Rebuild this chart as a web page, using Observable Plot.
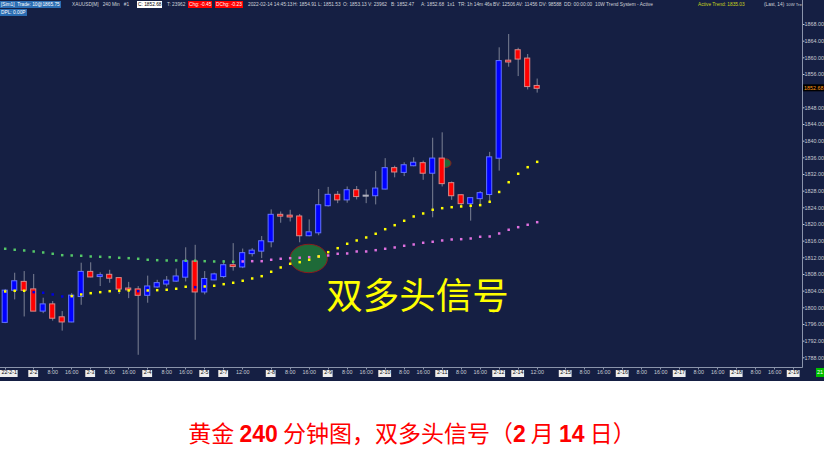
<!DOCTYPE html>
<html><head><meta charset="utf-8">
<script src="https://cdn.jsdelivr.net/npm/d3@7"></script>
<script src="https://cdn.jsdelivr.net/npm/@observablehq/plot@0.6"></script>
<style>
body{margin:0;background:#fff;}
#wrap{position:relative;width:824px;height:461px;background:#fff;overflow:hidden;font-family:"Liberation Sans",Arial,sans-serif;}
#chart{position:absolute;left:0;top:0;}
#hdr{position:absolute;left:0;top:0;width:802px;height:17px;overflow:hidden;font-size:4.8px;color:#d0d3da;white-space:nowrap;}
#hdr span{position:absolute;line-height:7px;height:7px;padding:0 1px;}
#caption{position:absolute;left:0;top:417px;width:824px;text-align:center;color:#ff0000;font-size:23px;line-height:30px;font-family:"Noto Sans CJK SC",sans-serif;white-space:nowrap;}
#caption b{font-family:"Liberation Sans",Arial,sans-serif;font-weight:bold;}
#corner{position:absolute;left:816px;top:368px;width:8px;height:9px;background:#00c000;color:#fff;font-size:5.5px;line-height:9px;text-align:center;}
</style></head>
<body>
<div id="wrap">
  <div id="chart"></div>
  <div id="hdr">
    <span style="left:0;top:1px;background:#2b6db3;color:#fff">[Sim1]&nbsp; Trade: 10@1865.75</span>
    <span style="left:71px;top:1px">XAUUSD[M]&nbsp;&nbsp; 240 Min&nbsp;&nbsp; #1</span>
    <span style="left:137px;top:1px;background:#fff;color:#000">C: 1852.68</span>
    <span style="left:166px;top:1px">T: 23962</span>
    <span style="left:188px;top:1px;background:#ff0000;color:#fff">Chg: -0.45</span>
    <span style="left:215px;top:1px;background:#ff0000;color:#fff">DChg: -0.23</span>
    <span style="left:247px;top:1px">2022-02-14 14:45:13</span>
    <span style="left:292px;top:1px">H: 1854.91</span>
    <span style="left:317px;top:1px">L: 1851.53</span>
    <span style="left:342px;top:1px">O: 1853.13</span>
    <span style="left:367px;top:1px">V: 23962</span>
    <span style="left:390px;top:1px">B: 1852.47</span>
    <span style="left:420px;top:1px">A: 1852.68</span>
    <span style="left:446px;top:1px">1x1</span>
    <span style="left:457px;top:1px">TR: 1h 14m 46s</span>
    <span style="left:492px;top:1px">BV: 12506</span>
    <span style="left:515px;top:1px">AV: 11456</span>
    <span style="left:538px;top:1px">DV: 98588</span>
    <span style="left:563px;top:1px">DD: 00:00:00</span>
    <span style="left:594px;top:1px">10W Trend System - Active</span>
    <span style="left:697px;top:1px;color:#c9d41c">Active Trend: 1835.03</span>
    <span style="left:763px;top:1px">(Last, 14)</span>
    <span style="left:786px;top:1px;font-size:4.2px;padding:0">10W Tre</span>
    <span style="left:0;top:9px;background:#2b6db3;color:#fff">DPL: 0.00P</span>
  </div>
  <div id="corner">21</div>
  <div id="caption">黄金 <b>240</b> 分钟图，双多头信号（<b>2</b> 月 <b>14</b> 日）</div>
</div>
<script>
// ---- OHLC (XAUUSD, 240-min bars, index 0 = 2022-02-01) ----
const opens  = [1796.5,1804.2,1806.1,1804.3,1799.2,1800.7,1797.6,1796.6,1802.7,1808.5,
                1807.5,1807.8,1807.0,1804.5,1804.3,1803.0,1805.0,1805.7,1806.4,1807.35,
                1811.0,1803.8,1806.7,1807.5,1810.1,1809.8,1813.0,1813.6,1815.85,1822.2,
                1822.0,1821.8,1817.3,1818.0,1824.5,1827.0,1825.9,1828.1,1826.8,1826.9,
                1828.5,1833.4,1832.5,1834.1,1834.6,1832.3,1835.7,1829.8,1826.9,1825.0,
                1826.2,1827.2,1835.9,1859.2,1861.7,1859.7,1853.13];
const highs  = [1804.4,1808.3,1808.7,1808.0,1802.3,1801.5,1799.1,1803.4,1810.7,1810.8,
                1808.4,1809.0,1807.1,1806.1,1805.1,1807.6,1806.6,1807.5,1809.3,1814.4,
                1815.0,1808.7,1808.3,1811.3,1815.4,1814.1,1814.2,1817.1,1823.5,1823.0,
                1823.4,1822.4,1821.1,1828.4,1828.9,1827.9,1829.0,1829.1,1828.3,1832.7,
                1835.8,1834.0,1834.8,1836.0,1835.2,1840.7,1842.0,1830.2,1827.2,1826.2,
                1827.9,1837.3,1862.4,1865.6,1862.3,1860.8,1854.91];
const lows   = [1796.2,1801.9,1797.8,1799.1,1798.6,1796.8,1794.4,1796.4,1800.6,1807.2,
                1805.1,1805.9,1803.2,1802.2,1788.6,1801.1,1804.7,1805.0,1806.1,1806.2,
                1792.2,1803.1,1806.5,1807.0,1808.8,1809.4,1812.2,1811.8,1814.4,1820.3,
                1820.6,1815.6,1817.05,1817.3,1824.2,1825.0,1825.1,1825.9,1825.0,1824.7,
                1828.3,1831.2,1831.5,1833.85,1830.6,1821.6,1829.0,1825.8,1824.2,1820.8,
                1824.6,1825.0,1832.8,1857.75,1855.5,1852.3,1851.53];
const closes = [1804.0,1806.25,1804.2,1799.2,1800.7,1797.5,1796.6,1802.8,1808.5,1807.4,
                1807.7,1807.1,1804.5,1804.3,1803.0,1805.0,1805.8,1806.4,1807.4,1811.05,
                1803.8,1806.8,1807.9,1810.1,1809.9,1813.0,1813.6,1815.85,1822.2,1822.0,
                1821.8,1817.3,1818.0,1824.5,1827.0,1825.9,1828.1,1826.7,1826.8,1828.5,
                1833.4,1832.6,1834.1,1834.7,1832.3,1835.7,1829.8,1826.9,1825.0,1826.2,
                1827.4,1836.0,1859.1,1859.0,1859.7,1853.1,1852.68];

// ---- 10W Trend System lines ----
const greenStart = 0;   // slow line, bars 0-24
const greenLine  = [1814.17,1813.93,1813.76,1813.52,1813.28,1812.97,1812.63,1812.56,1812.49,1812.32,
                    1812.25,1812.15,1812.01,1811.91,1811.77,1811.53,1811.43,1811.36,1811.36,1811.29,
                    1811.29,1811.19,1811.12,1811.12,1811.05];
const pinkStart  = 25;  // slow line, bars 25-56
const pinkLine   = [1811.12,1811.19,1811.19,1811.53,1811.77,1811.91,1812.01,1812.15,1812.32,1812.56,
                    1812.97,1813.04,1813.52,1813.52,1813.83,1814.17,1814.48,1814.89,1815.20,1815.61,
                    1815.85,1816.16,1816.40,1816.47,1816.64,1817.05,1817.12,1817.84,1818.73,1819.35,
                    1819.93,1820.55];
const yellowLine = [1803.92,1804.09,1804.09,1803.75,1803.61,1803.20,1802.72,1802.79,1803.20,1803.51,
                    1803.75,1803.99,1804.09,1804.16,1803.99,1804.16,1804.23,1804.33,1804.57,1805.05,
                    1804.95,1805.12,1805.29,1805.67,1806.01,1806.49,1807.04,1807.59,1808.65,1809.68,
                    1810.57,1810.95,1811.53,1812.32,1813.35,1814.31,1815.37,1816.16,1816.88,1817.77,
                    1818.87,1819.83,1820.89,1821.92,1822.64,1823.53,1823.91,1824.15,1824.32,1824.49,
                    1824.64,1825.45,1827.80,1830.15,1832.17,1833.75,1835.03];
const yellowState = [1,1,1,0,0,0,0,1,1,1, 1,1,1,1,0,1,1,1,1,1, 0,1,1,1,1,1,1,1,1,1,
                     1,1,1,1,1,1,1,1,1,1, 1,1,1,1,1,1,1,1,1,1, 1,1,1,1,1,1,1];

// ---- axes ----
const yTicks = [1788,1792,1796,1800,1804,1808,1812,1816,1820,1824,1828,1832,1836,1840,1844,1848,1856,1860,1864,1868]; // 1852 hidden under last-price marker
const xTickIdx    = [0,3,5,7,9,11,13,15,17,19,21,23,25,28,30,32,34,36,38,40,42,44,46,48,50,52,54,56,59,61,63,65,67,69,71,73,75,77,79,81,83];
const xTickLabels = ["22-2-1","2-2","8:00","16:00","2-3","8:00","16:00","2-4","8:00","16:00","2-5","2-7","12:00","2-8","8:00","16:00","2-9","8:00","16:00","2-10","8:00","16:00","2-11","8:00","16:00","2-12","2-14","12:00","2-15","8:00","16:00","2-16","8:00","16:00","2-17","8:00","16:00","2-18","8:00","16:00","2-19"];
const lastPrice = 1852.68;

// ---- annotations ----
const signalText = "双多头信号";
const signalX = 43.4, signalY = 1802.4;
const ellipseX  = [32.0, 46.4];
const ellipseY  = [1811.72, 1834.6];
const ellipseRX = [1.97, 0.58];   // in bars
const ellipseRY = [3.41, 1.05];   // in price units

// ---- build tables ----
const candles = opens.map((o, i) => ({i, o, h: highs[i], l: lows[i], c: closes[i],
  dir: closes[i] > o ? "up" : closes[i] < o ? "down" : "flat"}));
const green = greenLine.map((v, k) => ({i: greenStart + k, v}));
const pink = pinkLine.map((v, k) => ({i: pinkStart + k, v}));
const yellow = yellowLine.map((v, i) => ({i, v, s: yellowState[i]}));
const ticks = xTickIdx.map((i, k) => ({i, label: xTickLabels[k], date: xTickLabels[k].includes("-"), first: k === 0}));
const ellipses = ellipseX.map((x, k) => ({x, y: ellipseY[k], rx: ellipseRX[k], ry: ellipseRY[k]}));

const bodyFill = {up: "#0000ff", down: "#ff0000", flat: "#9a9aa8"};
const bodyStroke = {up: "#6474ff", down: "#d88a8a", flat: "#b0b0bc"};
const FS = 5.4;
const charW = ch => (/[0-9]/.test(ch) ? 0.556 : ch === "-" ? 0.333 : ch === ":" ? 0.278 : 0.5) * FS;

const ellipseMark = (index, scales) => {
  const g = d3.create("svg:g");
  for (const e of ellipses) {
    g.append("ellipse")
      .attr("cx", scales.x(e.x)).attr("cy", scales.y(e.y))
      .attr("rx", Math.abs(scales.x(e.x + e.rx) - scales.x(e.x)))
      .attr("ry", Math.abs(scales.y(e.y + e.ry) - scales.y(e.y)))
      .attr("fill", "#1e6a38").attr("stroke", "#8a1c1c").attr("stroke-width", 1);
  }
  return g.node();
};

const frameMark = (index, scales, values, dims) => {
  const {width, height, marginRight, marginBottom} = dims;
  const xr = width - marginRight + 0.5, yb = height - marginBottom + 0.5;
  const g = d3.create("svg:g").attr("stroke", "#8a94ab").attr("stroke-width", 1);
  g.append("line").attr("x1", xr).attr("x2", xr).attr("y1", 0).attr("y2", yb);
  g.append("line").attr("x1", 0).attr("x2", xr).attr("y1", yb).attr("y2", yb);
  for (const t of ticks) {
    const x = Math.round(scales.x(t.i)) + 0.5;
    g.append("line").attr("x1", x).attr("x2", x).attr("y1", yb).attr("y2", yb + 2);
  }
  // white boxes behind date labels
  for (const t of ticks.filter(t => t.date)) {
    const w = [...t.label].reduce((s, ch) => s + charW(ch), 0) + 2;
    const x0 = t.first ? 0 : scales.x(t.i) - w / 2;
    g.append("rect").attr("x", x0).attr("y", yb + 2.5).attr("width", w).attr("height", 7)
      .attr("fill", "#eeeeee").attr("stroke", "none");
  }
  // last price marker box
  const py = scales.y(lastPrice);
  g.append("rect").attr("x", xr + 0.5).attr("y", py - 3.5).attr("width", width - xr).attr("height", 7)
    .attr("fill", "#000").attr("stroke", "none");
  return g.node();
};

const chart = Plot.plot({
  width: 824, height: 381,
  marginLeft: 0, marginRight: 22, marginTop: 0, marginBottom: 14,
  style: {background: "#151f43", color: "#c8ccd4", fontFamily: "Liberation Sans, Arial, sans-serif", fontSize: FS + "px"},
  x: {domain: [-0.495, 83.93], axis: null},
  y: {domain: [1785.67, 1873.76], axis: null},
  marks: [
    ellipseMark,
    Plot.ruleX(candles, {x: "i", y1: "l", y2: "h", stroke: "#7b8194", strokeWidth: 1}),
    Plot.rect(candles, {x1: d => d.i - 0.27, x2: d => d.i + 0.27, y1: "o", y2: "c",
      insetTop: -0.5, insetBottom: -0.5,
      fill: d => bodyFill[d.dir], stroke: d => bodyStroke[d.dir], strokeWidth: 1}),
    Plot.dot(green, {x: "i", y: "v", symbol: "square", r: 1.4, fill: "#55c868"}),
    Plot.dot(pink, {x: "i", y: "v", symbol: "square", r: 1.4, fill: "#e070e0"}),
    Plot.dot(yellow, {x: "i", y: "v", symbol: "square", r: 1.4, fill: d => d.s ? "#ffff00" : "#0000e0"}),
    Plot.text([signalText], {x: () => signalX, y: () => signalY, text: d => d, fill: "#ffff00",
      fontSize: 36.5, fontFamily: "Noto Sans CJK SC, sans-serif", textAnchor: "middle"}),
    frameMark,
    Plot.axisY(yTicks, {anchor: "right", tickFormat: d => d.toFixed(2), tickSize: 1.5, tickPadding: 0.5,
      fontSize: FS, color: "#c8ccd4", label: null}),
    Plot.text([lastPrice], {y: d => d, text: d => d.toFixed(2), frameAnchor: "right", textAnchor: "start",
      dx: 1.5, fill: "#ff9a1a", fontSize: FS}),
    Plot.text(ticks.filter(t => t.first), {text: "label", frameAnchor: "bottom-left", textAnchor: "start",
      dx: 1, dy: 6.5, fill: "#101010", fontSize: FS}),
    Plot.text(ticks.filter(t => t.date && !t.first), {x: "i", text: "label", frameAnchor: "bottom", dy: 6.5,
      fill: "#101010", fontSize: FS}),
    Plot.text(ticks.filter(t => !t.date), {x: "i", text: "label", frameAnchor: "bottom", dy: 6.5,
      fill: "#c8ccd4", fontSize: FS})
  ]
});
document.getElementById("chart").appendChild(chart);
</script>
</body></html>
